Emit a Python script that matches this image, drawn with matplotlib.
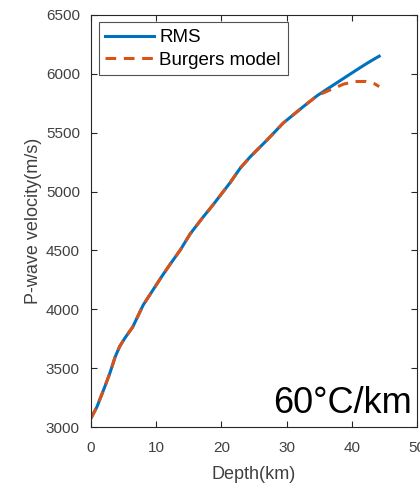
import numpy as np
import matplotlib.pyplot as plt

plt.rcParams['font.family'] = ['Liberation Sans', 'DejaVu Sans']

# depth (km) and P-wave velocity (m/s)
depth = [0, 0.9, 2.1, 2.9, 3.7, 4.4, 5.2, 6.4, 8, 9.5, 11, 12.1, 13.7, 15.2,
         17.2, 18.7, 21.3, 22.9, 24.4, 27, 29.5, 32.5, 34.7, 36.2, 38.7,
         40.5, 42.2, 43.5, 44.2]
v_rms = [3076, 3170, 3340, 3459, 3595, 3685, 3756, 3850, 4036, 4164, 4291,
         4380, 4504, 4640, 4784, 4886, 5073, 5200, 5294, 5438, 5583, 5719,
         5815, 5870, 5960, 6025, 6085, 6128, 6150]
v_burgers = [3076, 3170, 3340, 3459, 3595, 3685, 3756, 3850, 4036, 4164, 4291,
             4380, 4504, 4640, 4784, 4886, 5073, 5200, 5294, 5438, 5583, 5719,
             5815, 5852, 5912, 5935, 5935, 5915, 5892]

xticks = [0, 10, 20, 30, 40, 50]
yticks = [3000, 3500, 4000, 4500, 5000, 5500, 6000, 6500]

fig = plt.figure(figsize=(4.2, 4.83), dpi=100)
ax = fig.add_axes([0.2167, 0.1159, 0.7762, 0.8531])

ax.plot(depth, v_rms, color='#0072BD', lw=2.2, label='RMS',
        solid_joinstyle='round')
ax.plot(depth, v_burgers, color='#D95319', lw=2.2, dashes=(3.5, 2.5),
        label='Burgers model', dash_joinstyle='round')

ax.set_xlim(0, 50)
ax.set_ylim(3000, 6500)
ax.set_xticks(xticks)
ax.set_yticks(yticks)

grey = '#262626'
for s in ax.spines.values():
    s.set_color(grey)
    s.set_linewidth(0.8)
ax.tick_params(direction='in', top=True, right=True, length=4, width=0.8,
               colors=grey, labelsize=11, labelcolor='#404040')
ax.tick_params(axis='x', pad=10)
ax.tick_params(axis='y', pad=8)

ax.set_xlabel('Depth(km)', fontsize=13, color='#404040', labelpad=8)
ax.set_ylabel('P-wave velocity(m/s)', fontsize=13, color='#404040', labelpad=3)

leg = ax.legend(loc='upper left', fontsize=13.5, frameon=True, fancybox=False,
                handlelength=2.6, handletextpad=0.3, borderpad=0.35,
                labelspacing=0.3, borderaxespad=0.4)
leg.get_frame().set_edgecolor(grey)
leg.get_frame().set_linewidth(0.8)

ax.text(0.985, 0.035, '60\u00b0C/km', transform=ax.transAxes, ha='right',
        va='baseline', fontsize=26, color='black')

fig.savefig('out.png', dpi=100)
